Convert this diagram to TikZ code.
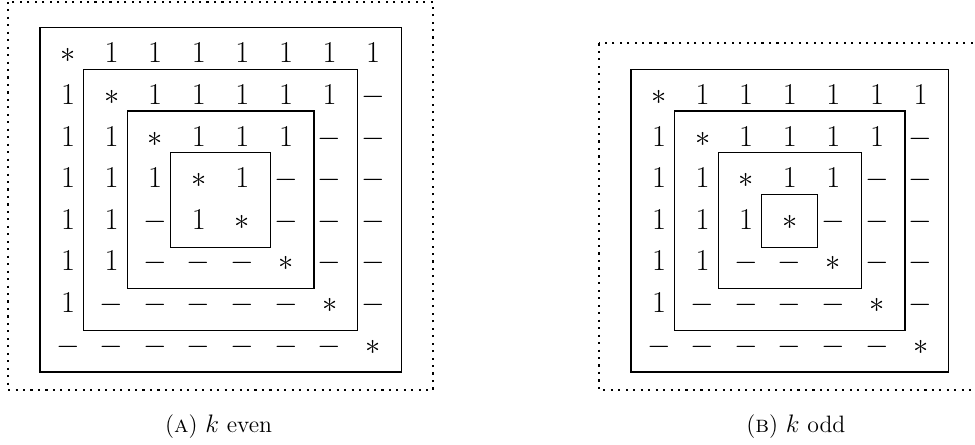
\documentclass[tikz,border=0pt]{standalone}
\usepackage{amsmath}
\usepackage{amssymb}
\usetikzlibrary{calc}

\tikzset{
  entry/.style={inner sep=0pt, text height=10.3pt, text depth=0pt, font=\fontsize{16.5}{19}\selectfont},
  ring/.style={line width=0.6pt},
  framebox/.style={line width=1.2pt, dash pattern=on 1.2pt off 3.05pt},
  capt/.style={inner sep=0pt, font=\fontsize{13.5}{16}\selectfont}
}

\begin{document}
\begin{tikzpicture}[x=0.02cm,y=-0.02cm]
\def\u{43.6}
\def\v{41.6}
\useasboundingbox (0,0) rectangle (975,444);

% k even
\foreach \r/\row in {1/{\ast,1,1,1,1,1,1,1},
                     2/{1,\ast,1,1,1,1,1,-},
                     3/{1,1,\ast,1,1,1,-,-},
                     4/{1,1,1,\ast,1,-,-,-},
                     5/{1,1,-,1,\ast,-,-,-},
                     6/{1,1,-,-,-,\ast,-,-},
                     7/{1,-,-,-,-,-,\ast,-},
                     8/{-,-,-,-,-,-,-,\ast}}
  \foreach \e [count=\c] in \row
    \node[entry] (a\r\c) at ({68+(\c-1)*\u}, {345-(8-\r)*\v}) {$\e$};

\draw[ring] ($(a11)+(-28,-26)$) rectangle ($(a88)+(28,27)$);
\draw[ring] ($(a22)+(-28,-26)$) rectangle ($(a77)+(28,27)$);
\draw[ring] ($(a33)+(-28,-26)$) rectangle ($(a66)+(28,27)$);
\draw[ring] ($(a44)+(-28,-26)$) rectangle ($(a55)+(28,27)$);
\draw[framebox] ($(a11)+(-60,-52)$) rectangle ($(a88)+(60,45)$);
\node[capt] (capa) at ($(a81)!0.5!(a88)+(-2,82)$) {(\textsc{a}) $k$ even};

% k odd
\foreach \r/\row in {1/{\ast,1,1,1,1,1,1},
                     2/{1,\ast,1,1,1,1,-},
                     3/{1,1,\ast,1,1,-,-},
                     4/{1,1,1,\ast,-,-,-},
                     5/{1,1,-,-,\ast,-,-},
                     6/{1,-,-,-,-,\ast,-},
                     7/{-,-,-,-,-,-,\ast}}
  \foreach \e [count=\c] in \row
    \node[entry] (b\r\c) at ({659+(\c-1)*\u}, {345-(7-\r)*\v}) {$\e$};

\draw[ring] ($(b11)+(-28,-26)$) rectangle ($(b77)+(28,27)$);
\draw[ring] ($(b22)+(-28,-26)$) rectangle ($(b66)+(28,27)$);
\draw[ring] ($(b33)+(-28,-26)$) rectangle ($(b55)+(28,27)$);
\draw[ring] ($(b44)+(-28,-26)$) rectangle ($(b44)+(28,27)$);
\draw[framebox] ($(b11)+(-60,-52)$) rectangle ($(b77)+(60,45)$);
\node[capt] (capb) at ($(b71)!0.5!(b77)+(6,82)$) {(\textsc{b}) $k$ odd};
\end{tikzpicture}
\end{document}
